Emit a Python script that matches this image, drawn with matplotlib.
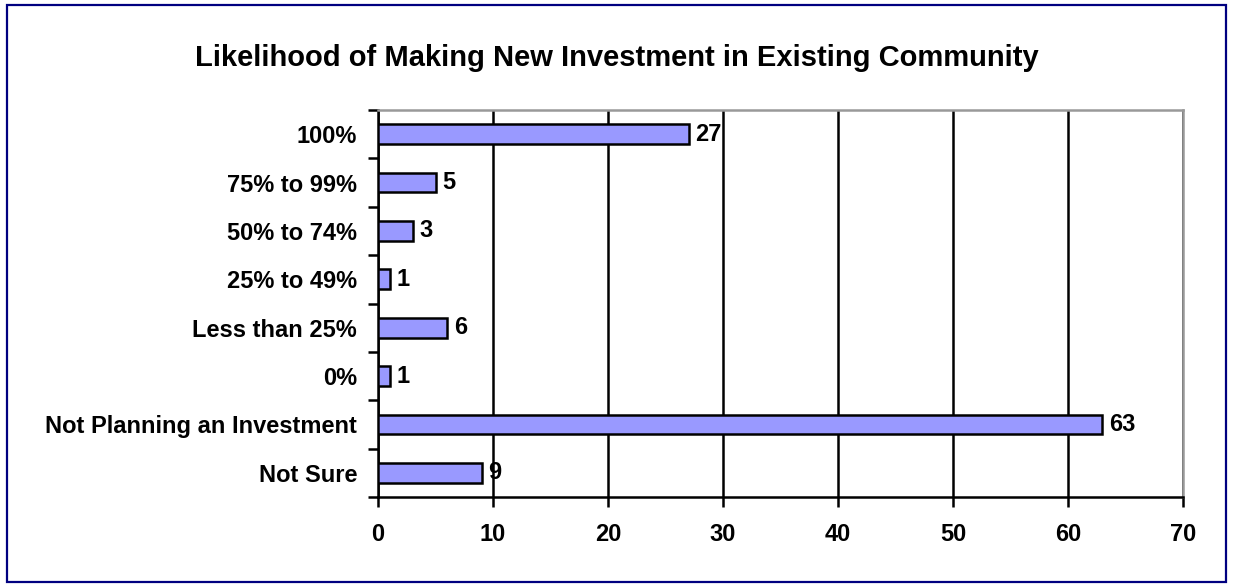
import matplotlib.pyplot as plt
from matplotlib.patches import Rectangle

plt.rcParams['font.family'] = ['Liberation Sans', 'DejaVu Sans']
plt.rcParams['font.weight'] = 'bold'

categories = ["100%", "75% to 99%", "50% to 74%", "25% to 49%",
              "Less than 25%", "0%", "Not Planning an Investment", "Not Sure"]
counts = [27, 5, 3, 1, 6, 1, 63, 9]
x_ticks = [0, 10, 20, 30, 40, 50, 60, 70]

fig = plt.figure(figsize=(12.33, 5.87), dpi=100)
ax = fig.add_axes([0.3066, 0.1533, 0.6528, 0.6593])

pos = list(range(len(categories)))
ax.barh(pos, counts, height=0.41, color="#9999FF", edgecolor="black",
        linewidth=1.8, zorder=3)
for p, v in zip(pos, counts):
    ax.text(v + 0.6, p, str(v), va="center", ha="left", fontsize=17,
            fontweight="bold", zorder=4)

ax.set_ylim(len(categories) - 0.5, -0.5)
ax.set_xlim(0, 70)
ax.set_xticks(x_ticks)
ax.set_yticks(pos)
ax.set_yticklabels(categories)
ax.set_yticks([p + 0.5 for p in range(-1, len(categories))], minor=True)
ax.tick_params(axis="y", which="major", length=0, pad=15, labelsize=17)
ax.tick_params(axis="y", which="minor", length=7, width=1.8, direction="out")
ax.tick_params(axis="x", length=7, width=1.8, direction="out", pad=12,
               labelsize=17)

ax.grid(axis="x", color="black", linewidth=1.8, zorder=1)
ax.spines["left"].set_linewidth(1.8)
ax.spines["bottom"].set_linewidth(1.8)
ax.spines["top"].set_color("#999999")
ax.spines["right"].set_color("#999999")
ax.spines["top"].set_linewidth(1.8)
ax.spines["right"].set_linewidth(1.8)

fig.text(0.5, 0.902, "Likelihood of Making New Investment in Existing Community",
         ha="center", va="center", fontsize=21, fontweight="bold")

fig.patches.append(Rectangle((0.006, 0.008), 0.988, 0.984, transform=fig.transFigure,
                             fill=False, edgecolor="#000080", linewidth=1.6))

fig.savefig("out.png", dpi=100)
